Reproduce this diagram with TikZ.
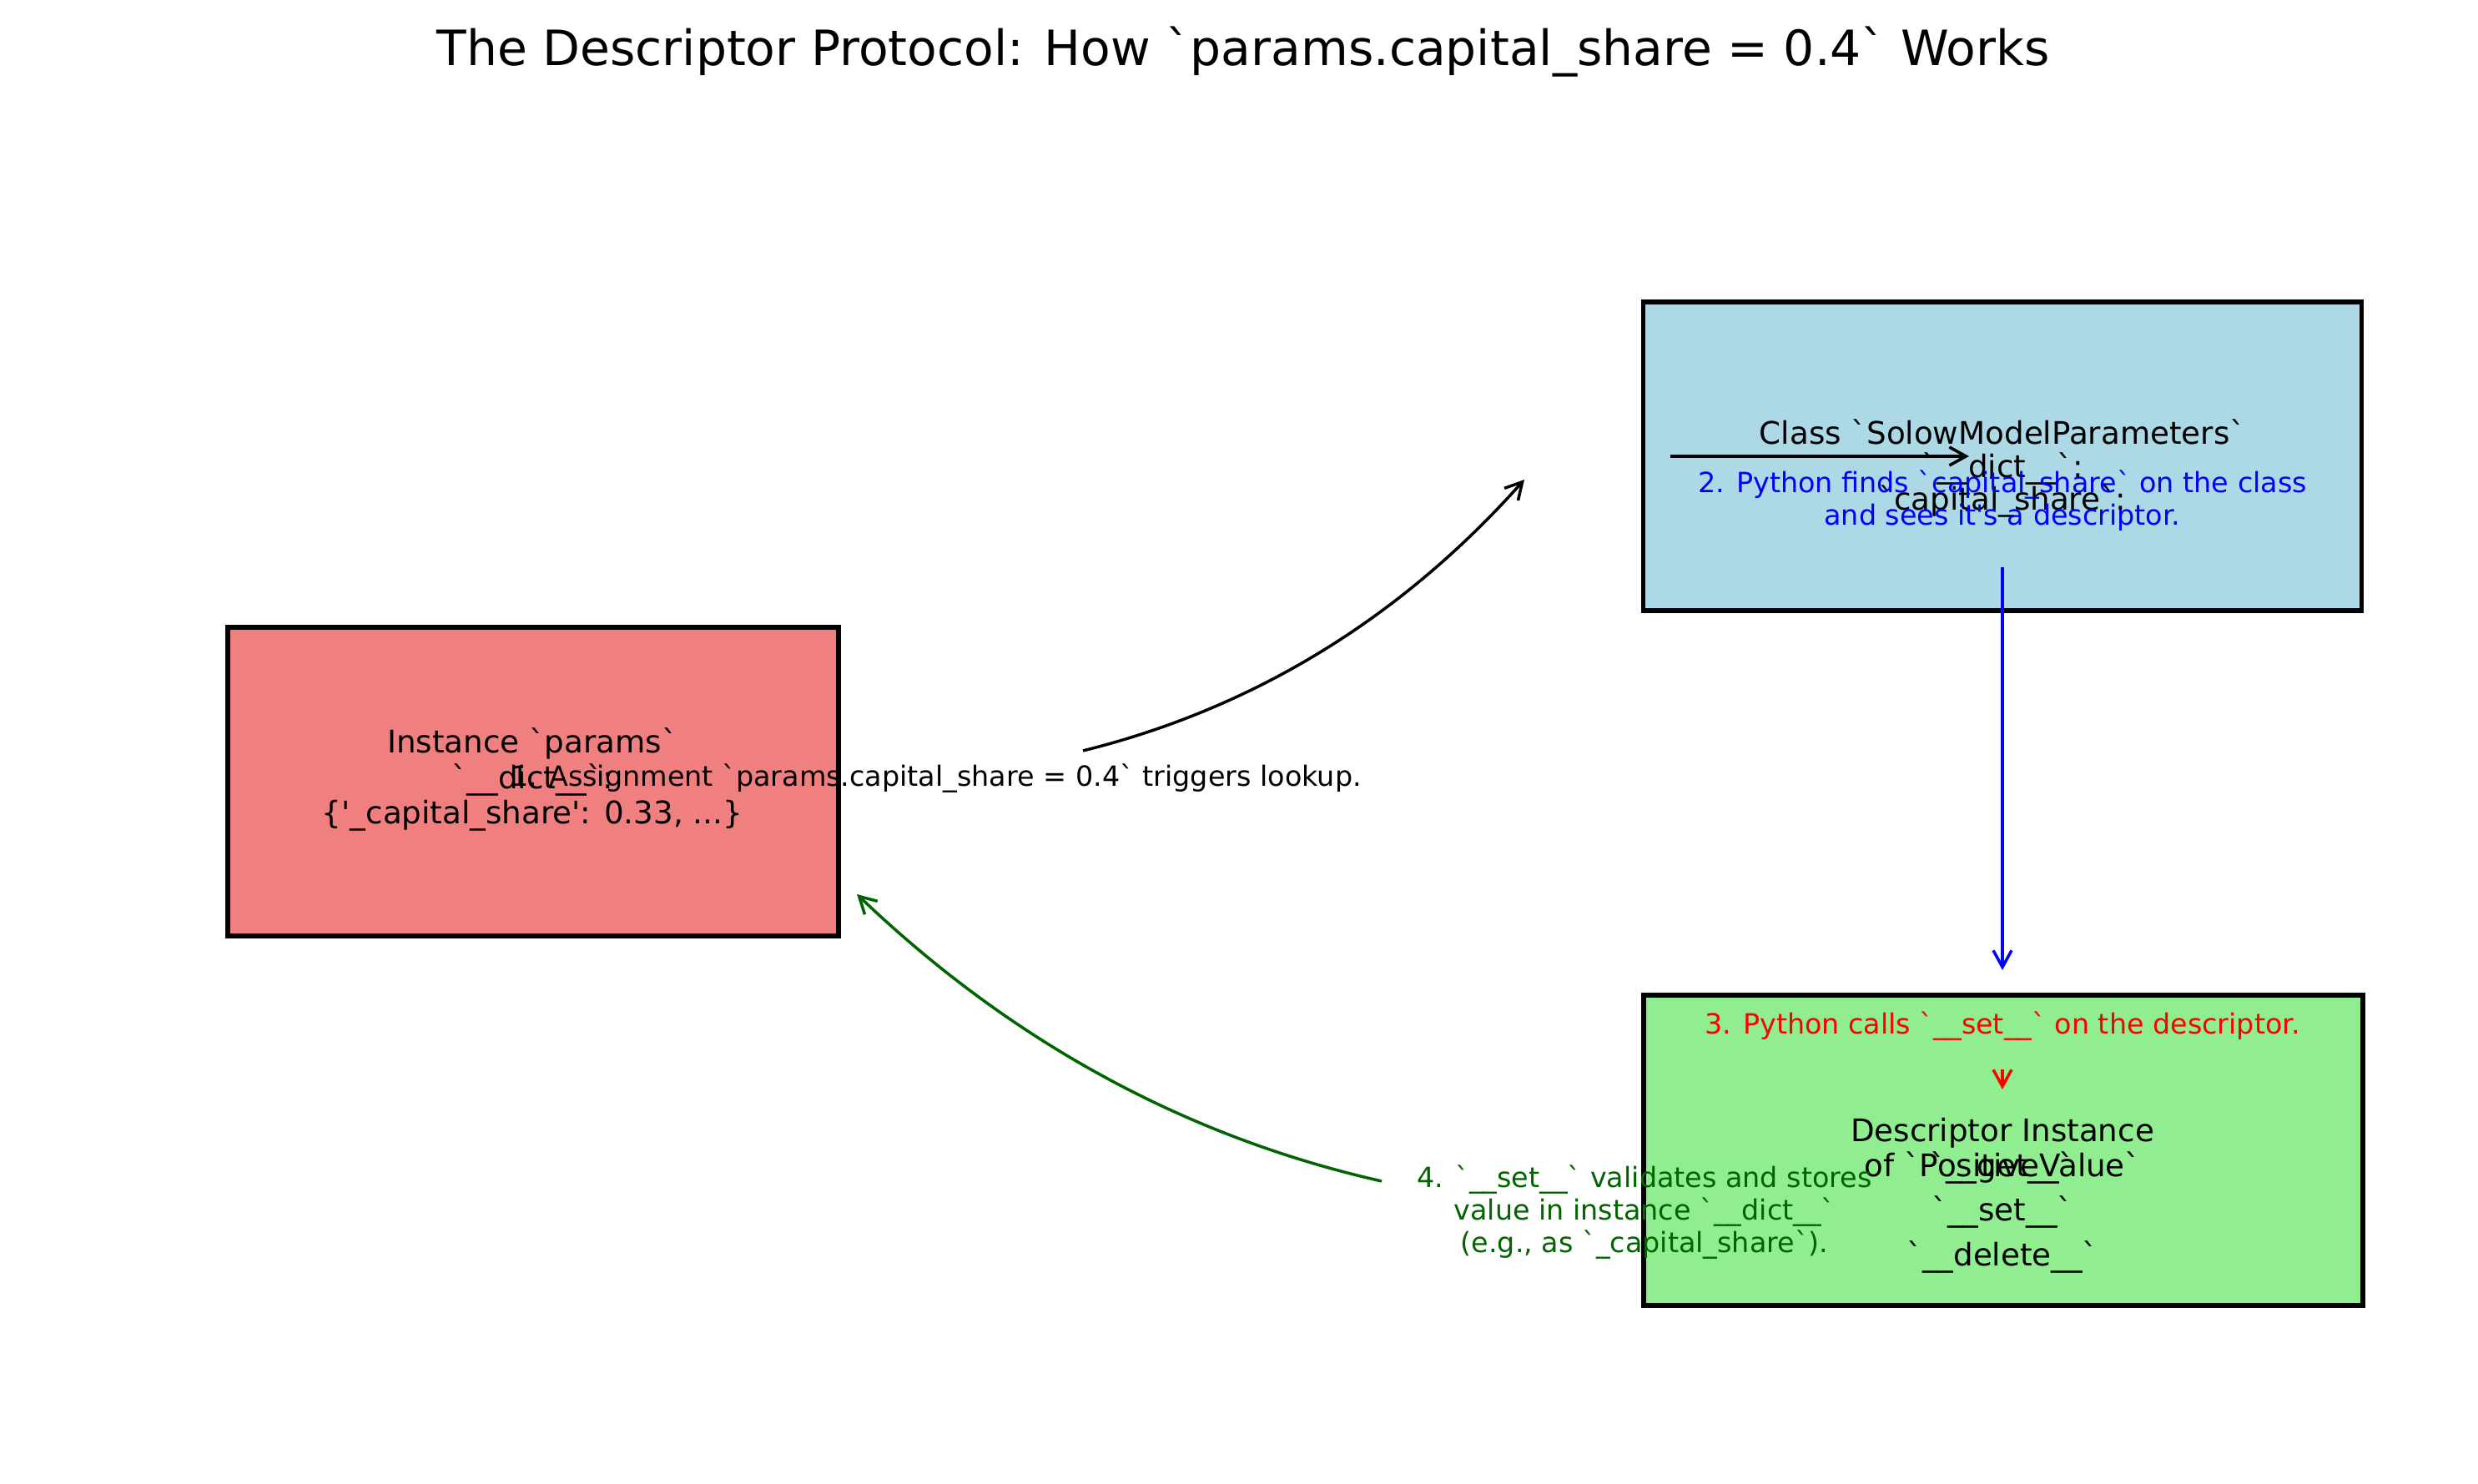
\documentclass[tikz,border=0pt]{standalone}
\usepackage{fontspec}
\setmainfont{DejaVu Sans}[Ligatures=TeXOff]
\usetikzlibrary{arrows.meta}

\definecolor{instfill}{RGB}{240,128,128}
\definecolor{classfill}{RGB}{173,216,230}
\definecolor{descfill}{RGB}{144,238,144}
\definecolor{stepgreen}{RGB}{0,100,0}

\tikzset{
  box/.style={draw=black, line width=1.5pt, minimum height=3.7cm, inner sep=0pt},
  boxtext/.style={align=center, anchor=base, inner sep=0pt, font=\fontsize{10.6}{12.1}\selectfont},
  stepnote/.style={align=center, anchor=base, inner sep=0pt, font=\fontsize{9.5}{11.1}\selectfont},
  flowarrow/.style={-{Straight Barb[length=2mm,width=2.2mm]}, line width=1pt},
}

\begin{document}
\begin{tikzpicture}
   \useasboundingbox (0,0) rectangle (29.70,17.79);
   \node[anchor=base, inner sep=0pt, font=\fontsize{16.6}{20}\selectfont] (title) at (14.90,17.00)
      {The Descriptor Protocol: How `params.capital\_share = 0.4` Works};

   % the three boxes
   \node[box, fill=instfill, minimum width=7.32cm] (inst) at (6.39,8.42) {};
   \node[box, fill=classfill, minimum width=8.61cm] (cls) at (24.00,12.32) {};
   \node[box, fill=descfill, minimum width=8.62cm, minimum height=3.72cm] (desc) at (24.01,4.00) {};

   % texts sit on the baseline of their last line
   \node[boxtext] (insttext) at (6.38,7.91)
      {Instance `params`\\`\_\_dict\_\_`:\\\{'\_capital\_share': 0.33, ...\}};
   \node[boxtext, font=\fontsize{10.6}{11.24}\selectfont] (clstext) at (24.00,11.67)
      {Class `SolowModelParameters`\\`\_\_dict\_\_`:\\`capital\_share`:};
   \node[boxtext] (desctext) at (24.00,3.68) {Descriptor Instance\\of `PositiveValue`};
   \node[boxtext, font=\fontsize{10.6}{15.36}\selectfont] (methods) at (24.00,2.61)
      {`\_\_get\_\_`\\`\_\_set\_\_`\\`\_\_delete\_\_`};

   % arrow ends
   \coordinate (s1) at (12.98,8.79);
   \coordinate (e1) at (18.27,12.04);
   \coordinate (s2) at (20.02,12.32);
   \coordinate (e2) at (23.60,12.32);
   \coordinate (s3) at (24.00,10.99);
   \coordinate (e3) at (24.00,6.16);
   \coordinate (s4) at (24.00,4.97);
   \coordinate (e4) at (24.00,4.73);
   \coordinate (s5) at (16.56,3.63);
   \coordinate (e5) at (10.27,7.07);

   \draw[flowarrow] (s1) .. controls (15.04,9.30) and (16.80,10.39) .. (e1);
   \draw[flowarrow] (s2) -- (e2);
   \draw[flowarrow, blue] (s3) -- (e3);
   \draw[flowarrow, red] (s4) -- (e4);
   \draw[flowarrow, stepgreen] (s5) .. controls (14.21,4.16) and (12.11,5.31) .. (e5);

   % the four steps
   \node[stepnote] (step1) at (11.22,8.36)
      {1. Assignment `params.capital\_share = 0.4` triggers lookup.};
   \node[stepnote, blue] (step2) at (24.00,11.49)
      {2. Python finds `capital\_share` on the class\\and sees it's a descriptor.};
   \node[stepnote, red] (step3) at (24.00,5.39)
      {3. Python calls `\_\_set\_\_` on the descriptor.};
   \node[stepnote, stepgreen] (step4) at (19.71,2.77)
      {4. `\_\_set\_\_` validates and stores\\value in instance `\_\_dict\_\_`\\(e.g., as `\_capital\_share`).};
\end{tikzpicture}
\end{document}
